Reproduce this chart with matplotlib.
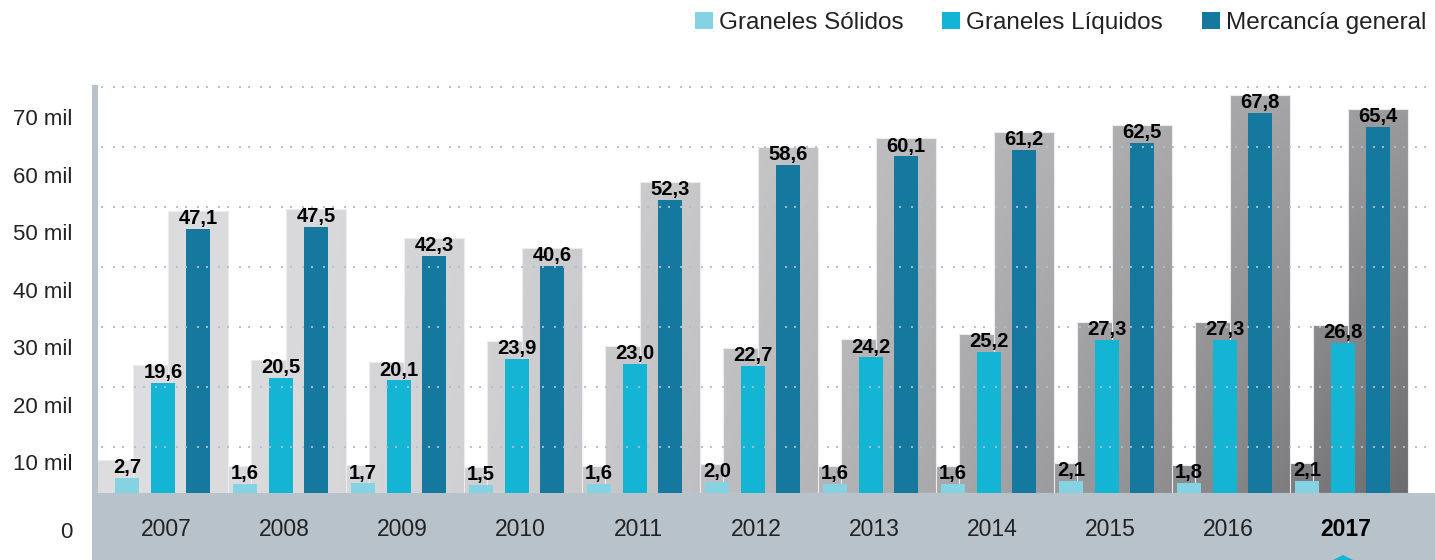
import numpy as np
import matplotlib.pyplot as plt
from matplotlib.patches import Rectangle

# data (miles)
years = ['2007', '2008', '2009', '2010', '2011', '2012', '2013', '2014', '2015', '2016', '2017']
solidos = [2.7, 1.6, 1.7, 1.5, 1.6, 2.0, 1.6, 1.6, 2.1, 1.8, 2.1]
liquidos = [19.6, 20.5, 20.1, 23.9, 23.0, 22.7, 24.2, 25.2, 27.3, 27.3, 26.8]
general = [47.1, 47.5, 42.3, 40.6, 52.3, 58.6, 60.1, 61.2, 62.5, 67.8, 65.4]
names = ['Graneles Sólidos', 'Graneles Líquidos', 'Mercancía general']
colors = ['#84d2e2', '#14b4d4', '#15799f']
y_labels = ['0', '10 mil', '20 mil', '30 mil', '40 mil', '50 mil', '60 mil', '70 mil']

plt.rcParams['font.family'] = ['Liberation Sans', 'DejaVu Sans']
narrow = ['Liberation Sans Narrow', 'Liberation Sans', 'DejaVu Sans']

W, H = 1435, 560
px = 5.6          # pixels per unit on the y axis
ppx = 118         # pixels per group on the x axis
fig = plt.figure(figsize=(W / 100, H / 100), dpi=100)
ax = fig.add_axes([92 / W, 0, 1 - 92 / W, 475 / H])
xmin, xmax = -71 / ppx, (W - 163) / ppx
ymin, ymax = -67 / px, 408 / px
for s in ax.spines.values():
    s.set_visible(False)

x = np.arange(len(years))
series = [solidos, liquidos, general]
offsets = [-36 / ppx, 0.0, 35 / ppx]
bar_w = 24 / ppx
box_w = 60 / ppx
box_pad = 18 / px

# grey gradient used for the boxes behind the bars
gx, gy = np.meshgrid(np.linspace(0, 1, 300), np.linspace(0, 1, 200))
shade = 0.87 - 0.26 * gx ** 1.5 - 0.2 * gx ** 2 * gy
grad = np.dstack([shade, shade, shade + 0.01]).clip(0, 1)

z = 1.0
for i in reversed(range(len(years))):
    for off, vals in zip(offsets, series):
        rect = Rectangle((x[i] + off - box_w / 2, 0), box_w, vals[i] + box_pad,
                         facecolor='none', edgecolor='#ececee', linewidth=0.8, zorder=z + 0.005)
        ax.add_patch(rect)
        im = ax.imshow(grad, extent=(xmin, xmax, 0, ymax), origin='upper', aspect='auto',
                       interpolation='bilinear', zorder=z)
        im.set_clip_path(rect)
        z += 0.01

bars = []
for off, vals, name, c in zip(offsets, series, names, colors):
    b = ax.bar(x + off, vals, bar_w, color=c, label=name, zorder=3)
    bars.append(b)
    for xi, v in zip(x, vals):
        ax.annotate(f'{v:.1f}'.replace('.', ','), (xi + off, v), xytext=(0, 3.5),
                    textcoords='offset points', ha='center', va='baseline',
                    fontsize=14.5, fontweight='bold', family=narrow, color='#000000', zorder=5)

# dotted grid
for p in [87, 147, 207, 267, 327, 387, 447]:
    ax.axhline((493 - p) / px, color='#b0bfce', lw=1.44, dashes=(1, 3.5, 1, 5), alpha=0.9, zorder=4)

# bottom band and left bar
ax.axhspan(ymin, 0, color='#b8c2cb', zorder=6, lw=0)
ax.axvspan(xmin, xmin + 6 / ppx, color='#b8c2cb', zorder=6, lw=0)

for xi, yr in zip(x, years):
    bold = yr == '2017'
    ax.text(xi + 3 / ppx, -37 / px, yr, ha='center', va='center', fontsize=16.5,
            fontweight='bold' if bold else 'normal', color='#000000' if bold else '#222222', zorder=7)

# marker under 2017
ax.fill([10 - 10 / ppx, 10, 10 + 10 / ppx], [ymin, ymin + 5 / px, ymin], color='#14b4d4', zorder=8, lw=0)

ytick_px = [530, 462, 405, 347, 290, 232, 175, 117]
ax.set_yticks([(493 - p) / px for p in ytick_px], y_labels)
ax.tick_params(axis='y', length=0, pad=14, labelsize=16, labelcolor='#222222')
ax.set_xticks([])
ax.set_xlim(xmin, xmax)
ax.set_ylim(ymin, ymax)

fig.legend(handles=bars, labels=names, loc='upper right', bbox_to_anchor=(1436 / W, 1 - 2 / H),
           ncol=3, frameon=False, fontsize=17.5, handlelength=0.74, handleheight=0.74,
           handletextpad=0.25, columnspacing=1.6, borderaxespad=0, labelcolor='#222222')

fig.savefig('out.png', dpi=100)
